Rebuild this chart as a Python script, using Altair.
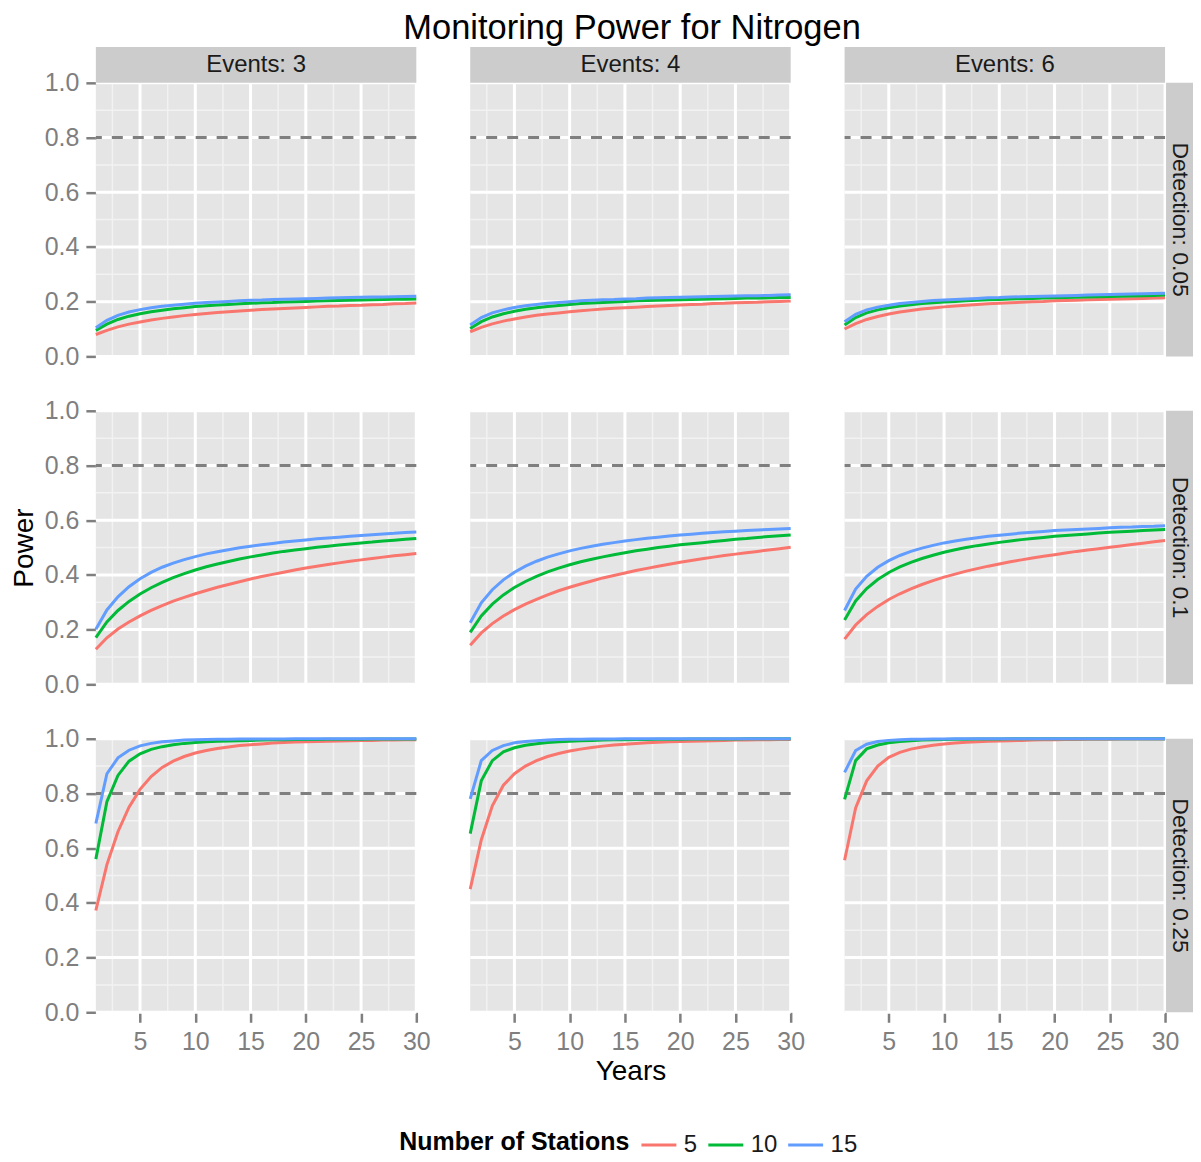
import altair as alt
import pandas as pd

FONT = "Liberation Sans"

years = list(range(1, 31))
stations = ["5", "10", "15"]
events = [3, 4, 6]
detections = ["0.05", "0.1", "0.25"]
colors = ["#F8766D", "#00BA38", "#619CFF"]

# ---- Detection 0.05 ----
d005_e3_s5 = [0.080, 0.095, 0.108, 0.118, 0.126, 0.133, 0.139, 0.144, 0.149, 0.153,
              0.157, 0.160, 0.163, 0.166, 0.169, 0.171, 0.173, 0.175, 0.177, 0.179,
              0.181, 0.183, 0.184, 0.186, 0.187, 0.189, 0.190, 0.192, 0.193, 0.195]
d005_e3_s10 = [0.095, 0.118, 0.135, 0.147, 0.156, 0.163, 0.169, 0.174, 0.178, 0.182,
               0.185, 0.188, 0.190, 0.192, 0.194, 0.196, 0.197, 0.199, 0.200, 0.201,
               0.202, 0.203, 0.204, 0.205, 0.206, 0.207, 0.208, 0.209, 0.209, 0.210]
d005_e3_s15 = [0.105, 0.132, 0.150, 0.162, 0.171, 0.178, 0.183, 0.187, 0.191, 0.194,
               0.197, 0.199, 0.201, 0.203, 0.205, 0.206, 0.208, 0.209, 0.210, 0.211,
               0.212, 0.213, 0.214, 0.215, 0.216, 0.217, 0.217, 0.218, 0.219, 0.220]
d005_e4_s5 = [0.090, 0.106, 0.119, 0.129, 0.137, 0.144, 0.150, 0.155, 0.159, 0.163,
              0.167, 0.170, 0.173, 0.176, 0.178, 0.180, 0.182, 0.184, 0.186, 0.188,
              0.190, 0.191, 0.193, 0.194, 0.196, 0.197, 0.198, 0.200, 0.201, 0.202]
d005_e4_s10 = [0.102, 0.127, 0.144, 0.156, 0.165, 0.172, 0.178, 0.182, 0.186, 0.190,
               0.193, 0.195, 0.197, 0.199, 0.201, 0.203, 0.204, 0.205, 0.206, 0.207,
               0.208, 0.209, 0.210, 0.211, 0.212, 0.213, 0.213, 0.214, 0.215, 0.215]
d005_e4_s15 = [0.115, 0.142, 0.159, 0.170, 0.179, 0.185, 0.190, 0.194, 0.197, 0.200,
               0.203, 0.205, 0.207, 0.208, 0.210, 0.211, 0.213, 0.214, 0.215, 0.216,
               0.217, 0.218, 0.219, 0.220, 0.221, 0.222, 0.222, 0.223, 0.224, 0.225]
d005_e6_s5 = [0.100, 0.120, 0.135, 0.146, 0.155, 0.162, 0.168, 0.173, 0.177, 0.181,
              0.184, 0.187, 0.190, 0.192, 0.194, 0.196, 0.198, 0.200, 0.201, 0.203,
              0.204, 0.205, 0.207, 0.208, 0.209, 0.210, 0.211, 0.212, 0.213, 0.214]
d005_e6_s10 = [0.115, 0.142, 0.159, 0.170, 0.178, 0.184, 0.189, 0.193, 0.196, 0.199,
               0.201, 0.203, 0.205, 0.207, 0.208, 0.210, 0.211, 0.212, 0.213, 0.214,
               0.215, 0.216, 0.217, 0.218, 0.219, 0.220, 0.221, 0.222, 0.223, 0.224]
d005_e6_s15 = [0.127, 0.154, 0.170, 0.180, 0.187, 0.193, 0.197, 0.201, 0.204, 0.206,
               0.208, 0.210, 0.212, 0.214, 0.215, 0.217, 0.218, 0.219, 0.220, 0.221,
               0.222, 0.223, 0.224, 0.225, 0.226, 0.227, 0.228, 0.229, 0.230, 0.231]

# ---- Detection 0.1 ----
d01_e3_s5 = [0.128, 0.170, 0.202, 0.228, 0.250, 0.270, 0.288, 0.304, 0.318, 0.331,
             0.343, 0.355, 0.365, 0.375, 0.385, 0.394, 0.402, 0.410, 0.418, 0.425,
             0.432, 0.438, 0.444, 0.450, 0.455, 0.460, 0.465, 0.470, 0.474, 0.478]
d01_e3_s10 = [0.171, 0.228, 0.270, 0.303, 0.330, 0.353, 0.373, 0.390, 0.405, 0.418,
              0.430, 0.440, 0.449, 0.458, 0.466, 0.473, 0.480, 0.486, 0.491, 0.496,
              0.501, 0.505, 0.509, 0.513, 0.517, 0.520, 0.524, 0.527, 0.530, 0.533]
d01_e3_s15 = [0.201, 0.272, 0.320, 0.357, 0.386, 0.409, 0.428, 0.443, 0.456, 0.467,
              0.477, 0.485, 0.492, 0.499, 0.505, 0.510, 0.515, 0.520, 0.524, 0.528,
              0.532, 0.535, 0.538, 0.541, 0.544, 0.547, 0.550, 0.552, 0.555, 0.557]
d01_e4_s5 = [0.143, 0.188, 0.222, 0.250, 0.273, 0.293, 0.311, 0.327, 0.342, 0.355,
             0.367, 0.378, 0.389, 0.398, 0.407, 0.416, 0.424, 0.432, 0.439, 0.446,
             0.453, 0.459, 0.465, 0.471, 0.476, 0.481, 0.486, 0.491, 0.496, 0.501]
d01_e4_s10 = [0.190, 0.250, 0.293, 0.327, 0.354, 0.376, 0.395, 0.411, 0.425, 0.437,
              0.448, 0.457, 0.466, 0.474, 0.481, 0.488, 0.494, 0.500, 0.505, 0.510,
              0.514, 0.518, 0.522, 0.526, 0.530, 0.533, 0.537, 0.540, 0.543, 0.546]
d01_e4_s15 = [0.225, 0.298, 0.346, 0.382, 0.410, 0.432, 0.450, 0.465, 0.477, 0.488,
              0.497, 0.505, 0.512, 0.518, 0.524, 0.529, 0.534, 0.538, 0.542, 0.546,
              0.549, 0.552, 0.555, 0.558, 0.560, 0.562, 0.564, 0.566, 0.568, 0.570]
d01_e6_s5 = [0.165, 0.217, 0.255, 0.285, 0.310, 0.331, 0.349, 0.365, 0.379, 0.392,
             0.403, 0.414, 0.423, 0.432, 0.440, 0.448, 0.455, 0.462, 0.468, 0.474,
             0.480, 0.486, 0.491, 0.496, 0.501, 0.506, 0.511, 0.516, 0.521, 0.526]
d01_e6_s10 = [0.235, 0.305, 0.350, 0.383, 0.409, 0.429, 0.446, 0.460, 0.472, 0.483,
              0.492, 0.500, 0.507, 0.513, 0.519, 0.524, 0.529, 0.533, 0.537, 0.541,
              0.544, 0.547, 0.550, 0.553, 0.556, 0.558, 0.560, 0.562, 0.564, 0.566]
d01_e6_s15 = [0.270, 0.348, 0.395, 0.428, 0.452, 0.471, 0.486, 0.498, 0.508, 0.517,
              0.524, 0.530, 0.536, 0.541, 0.545, 0.549, 0.553, 0.556, 0.559, 0.562,
              0.564, 0.566, 0.568, 0.570, 0.572, 0.574, 0.575, 0.577, 0.578, 0.580]

# ---- Detection 0.25 ----
d025_e3_s5 = [0.372, 0.540, 0.660, 0.750, 0.815, 0.862, 0.895, 0.918, 0.935, 0.948,
              0.957, 0.964, 0.970, 0.975, 0.978, 0.981, 0.984, 0.986, 0.988, 0.989,
              0.990, 0.991, 0.992, 0.993, 0.994, 0.994, 0.995, 0.995, 0.996, 0.996]
d025_e3_s10 = [0.560, 0.770, 0.866, 0.918, 0.945, 0.961, 0.971, 0.978, 0.983, 0.986,
               0.989, 0.991, 0.992, 0.993, 0.994, 0.995, 0.996, 0.996, 0.997, 0.997,
               0.997, 0.998, 0.998, 0.998, 0.998, 0.999, 0.999, 0.999, 0.999, 0.999]
d025_e3_s15 = [0.690, 0.872, 0.930, 0.958, 0.974, 0.983, 0.989, 0.992, 0.995, 0.996,
               0.997, 0.998, 0.998, 0.999, 0.999, 0.999, 0.999, 0.999, 1.000, 1.000,
               1.000, 1.000, 1.000, 1.000, 1.000, 1.000, 1.000, 1.000, 1.000, 1.000]
d025_e4_s5 = [0.450, 0.630, 0.755, 0.830, 0.872, 0.900, 0.920, 0.935, 0.946, 0.955,
              0.962, 0.968, 0.973, 0.977, 0.980, 0.983, 0.985, 0.987, 0.989, 0.990,
              0.991, 0.992, 0.993, 0.994, 0.995, 0.995, 0.996, 0.996, 0.997, 0.997]
d025_e4_s10 = [0.653, 0.846, 0.920, 0.952, 0.967, 0.976, 0.982, 0.986, 0.989, 0.991,
               0.993, 0.994, 0.995, 0.996, 0.996, 0.997, 0.997, 0.998, 0.998, 0.998,
               0.999, 0.999, 0.999, 0.999, 0.999, 1.000, 1.000, 1.000, 1.000, 1.000]
d025_e4_s15 = [0.780, 0.920, 0.957, 0.975, 0.985, 0.990, 0.993, 0.995, 0.997, 0.998,
               0.998, 0.999, 0.999, 0.999, 1.000, 1.000, 1.000, 1.000, 1.000, 1.000,
               1.000, 1.000, 1.000, 1.000, 1.000, 1.000, 1.000, 1.000, 1.000, 1.000]
d025_e6_s5 = [0.556, 0.747, 0.846, 0.900, 0.932, 0.950, 0.962, 0.970, 0.976, 0.981,
              0.984, 0.987, 0.989, 0.991, 0.992, 0.993, 0.994, 0.995, 0.996, 0.996,
              0.997, 0.997, 0.998, 0.998, 0.998, 0.999, 0.999, 0.999, 0.999, 0.999]
d025_e6_s10 = [0.778, 0.920, 0.963, 0.977, 0.985, 0.990, 0.993, 0.995, 0.996, 0.997,
               0.998, 0.998, 0.999, 0.999, 0.999, 1.000, 1.000, 1.000, 1.000, 1.000,
               1.000, 1.000, 1.000, 1.000, 1.000, 1.000, 1.000, 1.000, 1.000, 1.000]
d025_e6_s15 = [0.877, 0.957, 0.980, 0.990, 0.994, 0.996, 0.998, 0.998, 0.999, 0.999,
               1.000, 1.000, 1.000, 1.000, 1.000, 1.000, 1.000, 1.000, 1.000, 1.000,
               1.000, 1.000, 1.000, 1.000, 1.000, 1.000, 1.000, 1.000, 1.000, 1.000]

power = {
    ("0.05", 3): [d005_e3_s5, d005_e3_s10, d005_e3_s15],
    ("0.05", 4): [d005_e4_s5, d005_e4_s10, d005_e4_s15],
    ("0.05", 6): [d005_e6_s5, d005_e6_s10, d005_e6_s15],
    ("0.1", 3): [d01_e3_s5, d01_e3_s10, d01_e3_s15],
    ("0.1", 4): [d01_e4_s5, d01_e4_s10, d01_e4_s15],
    ("0.1", 6): [d01_e6_s5, d01_e6_s10, d01_e6_s15],
    ("0.25", 3): [d025_e3_s5, d025_e3_s10, d025_e3_s15],
    ("0.25", 4): [d025_e4_s5, d025_e4_s10, d025_e4_s15],
    ("0.25", 6): [d025_e6_s5, d025_e6_s10, d025_e6_s15],
}

x_major = [5, 10, 15, 20, 25, 30]
x_minor = [2.5, 7.5, 12.5, 17.5, 22.5, 27.5]
y_major = [0.0, 0.2, 0.4, 0.6, 0.8, 1.0]
y_minor = [0.1, 0.3, 0.5, 0.7, 0.9]
target = [0.8]

W, H = 321, 274
STRIP = 36

xscale = alt.Scale(domain=[1, 30], nice=False, zero=False)
yscale = alt.Scale(domain=[0, 1], nice=False, zero=False)

legend = alt.Legend(
    title="Number of Stations", orient="none", legendX=304, legendY=1045,
    direction="horizontal", titleOrient="left", titleFont=FONT, titleFontSize=25,
    titleFontWeight="bold", titleColor="black", titlePadding=10, titleLimit=600,
    labelFont=FONT, labelFontSize=24, labelColor="#1A1A1A", labelOffset=6,
    symbolType="stroke", symbolSize=1225, symbolStrokeWidth=3, columnPadding=4,
    padding=0,
)


def panel(ri, ci):
    det = detections[ri]
    ev = events[ci]
    rows = []
    for s, vals in zip(stations, power[(det, ev)]):
        for yr, v in zip(years, vals):
            rows.append({"Years": yr, "Power": v, "Stations": s})
    df = pd.DataFrame(rows)

    if ri == 2:
        xaxis = alt.Axis(values=x_major, format="d", title="Years" if ci == 1 else None,
                         labelFlush=False, labelOverlap=False, titlePadding=3)
    else:
        xaxis = None
    if ci == 0:
        yaxis = alt.Axis(values=y_major, format=".1f", title="Power" if ri == 1 else None,
                         labelFlush=False, labelOverlap=False, titlePadding=6)
    else:
        yaxis = None

    def X(f):
        return alt.X(f"{f}:Q", scale=xscale, axis=xaxis)

    def Y(f):
        return alt.Y(f"{f}:Q", scale=yscale, axis=yaxis)

    layers = [
        alt.Chart(pd.DataFrame({"gx": x_minor})).mark_rule(color="#F2F2F2", strokeWidth=1.5).encode(x=X("gx")),
        alt.Chart(pd.DataFrame({"gy": y_minor})).mark_rule(color="#F2F2F2", strokeWidth=1.5).encode(y=Y("gy")),
        alt.Chart(pd.DataFrame({"gx": x_major})).mark_rule(color="white", strokeWidth=3).encode(x=X("gx")),
        alt.Chart(pd.DataFrame({"gy": y_major})).mark_rule(color="white", strokeWidth=3).encode(y=Y("gy")),
        alt.Chart(pd.DataFrame({"h": target})).mark_rule(color="#7F7F7F", strokeWidth=3, strokeDash=[11, 10]).encode(y=Y("h")),
        alt.Chart(df).mark_line(strokeWidth=3).encode(
            x=X("Years"), y=Y("Power"),
            color=alt.Color("Stations:N", scale=alt.Scale(domain=stations, range=colors), legend=legend),
        ),
    ]
    if ri == 0:
        lab = pd.DataFrame({"label": [f"Events: {ev}"]})
        layers.append(alt.Chart(lab).mark_rect(color="#CCCCCC").encode(
            x=alt.value(0), x2=alt.value(W), y=alt.value(-STRIP), y2=alt.value(0)))
        layers.append(alt.Chart(lab).mark_text(font=FONT, fontSize=24, color="#1A1A1A").encode(
            text="label:N", x=alt.value(W / 2), y=alt.value(-STRIP / 2)))
    if ci == 2:
        lab = pd.DataFrame({"label": [f"Detection: {det}"]})
        layers.append(alt.Chart(lab).mark_rect(color="#CCCCCC").encode(
            x=alt.value(W + 1), x2=alt.value(W + 28), y=alt.value(0), y2=alt.value(H)))
        layers.append(alt.Chart(lab).mark_text(font=FONT, fontSize=23, color="#1A1A1A", angle=90).encode(
            text="label:N", x=alt.value(W + 15), y=alt.value(H / 2)))
    return alt.layer(*layers).properties(width=W, height=H)


panels = [panel(r, c) for r in range(3) for c in range(3)]

chart = alt.concat(
    *panels, columns=3, spacing={"row": 54.5, "column": 54}, bounds="flush"
).properties(
    title=alt.TitleParams("Monitoring Power for Nitrogen", font=FONT, fontSize=34.5,
                          fontWeight="normal", color="black", anchor="start",
                          frame="group", offset=0, dx=308),
    padding={"left": 2, "top": 2, "right": 0, "bottom": 0},
).configure_view(
    fill="#E5E5E5", stroke=None
).configure_axis(
    domain=False, grid=False, tickColor="#7F7F7F", tickSize=10, tickWidth=2.5,
    labelColor="#7F7F7F", labelFont=FONT, labelFontSize=25, labelPadding=7,
    titleFont=FONT, titleFontSize=28, titleFontWeight="normal", titleColor="black",
)

chart.save("out.html", embed_options={"renderer": "svg", "actions": False})
